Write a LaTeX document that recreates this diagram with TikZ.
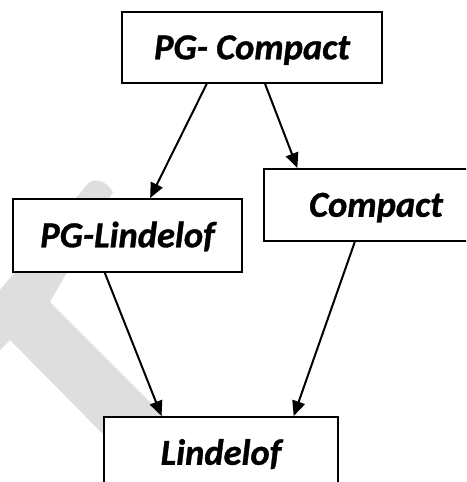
\documentclass[tikz,border=0pt]{standalone}
\usepackage{fontspec}
\setmainfont{Carlito}[BoldItalicFeatures={FakeBold=1}]
\usetikzlibrary{arrows.meta,calc}
\definecolor{wm}{RGB}{222,222,222}
\begin{document}
\begin{tikzpicture}[x=1pt,y=-1pt,
  box/.style={draw,line width=2pt,fill=white,inner sep=0pt,
    text height=23.5pt,text depth=0pt,
    font=\fontsize{36.5}{42}\selectfont\bfseries\itshape},
  conn/.style={line width=2pt,-{Triangle[length=15pt,width=13pt]}}]
\useasboundingbox (0,0) rectangle (466,482);
\begin{scope}
\clip (0,0) rectangle (466,482);
% faint watermark
\fill[wm] (86,186) .. controls (92,176) and (106,180) .. (113,192) -- (50,302)
  -- (200,452) -- (160,492) -- (10,340) -- (0,350) -- (0,290) -- cycle;
\node[box,minimum width=260pt,minimum height=71pt] (top) at (252,47.5) {PG- Compact};
\node[box,minimum width=229pt,minimum height=73pt] (pgl) at (127.5,235.5) {PG-Lindelof};
\node[box,minimum width=224pt,minimum height=72pt] (cmp) at (376,205) {Compact};
\node[box,minimum width=234pt,minimum height=72pt] (lin) at (221,453) {Lindelof};
\draw[conn] ($(top.south west)!0.327!(top.south east)$) -- ($(pgl.north west)!0.598!(pgl.north east)$);
\draw[conn] ($(top.south west)!0.55!(top.south east)$) -- ($(cmp.north west)!0.152!(cmp.north east)$);
\draw[conn] ($(pgl.south west)!0.402!(pgl.south east)$) -- ($(lin.north west)!0.248!(lin.north east)$);
\draw[conn] ($(cmp.south west)!0.406!(cmp.south east)$) -- ($(lin.north west)!0.808!(lin.north east)$);
\end{scope}
\end{tikzpicture}
\end{document}
